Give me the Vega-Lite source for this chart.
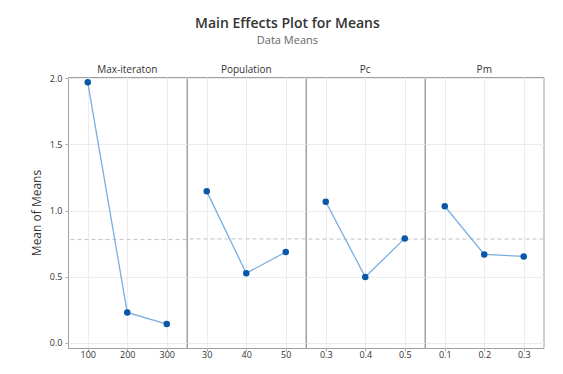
{
  "$schema": "https://vega.github.io/schema/vega-lite/v6.json",
  "background": "white",
  "padding": {"left": 30, "top": 17, "right": 21, "bottom": 8},
  "bounds": "flush",
  "title": {
    "text": "Main Effects Plot for Means",
    "subtitle": "Data Means",
    "anchor": "middle",
    "font": "Open Sans",
    "fontSize": 14,
    "fontWeight": 600,
    "color": "#333333",
    "subtitleFont": "Open Sans",
    "subtitleFontSize": 11,
    "subtitleColor": "#666666",
    "subtitlePadding": 4,
    "offset": 19
  },
  "data": {
    "values": [
      {"factor": "Max-iteraton", "level": "100", "mean": 1.97},
      {"factor": "Max-iteraton", "level": "200", "mean": 0.229},
      {"factor": "Max-iteraton", "level": "300", "mean": 0.141},
      {"factor": "Population", "level": "30", "mean": 1.145},
      {"factor": "Population", "level": "40", "mean": 0.525},
      {"factor": "Population", "level": "50", "mean": 0.686},
      {"factor": "Pc", "level": "0.3", "mean": 1.066},
      {"factor": "Pc", "level": "0.4", "mean": 0.497},
      {"factor": "Pc", "level": "0.5", "mean": 0.789},
      {"factor": "Pm", "level": "0.1", "mean": 1.032},
      {"factor": "Pm", "level": "0.2", "mean": 0.668},
      {"factor": "Pm", "level": "0.3", "mean": 0.653}
    ]
  },
  "facet": {
    "column": {
      "field": "factor",
      "type": "nominal",
      "sort": ["Max-iteraton", "Population", "Pc", "Pm"],
      "title": null,
      "header": {
        "labelFont": "Open Sans",
        "labelFontSize": 10,
        "labelFontWeight": "normal",
        "labelColor": "#333333",
        "labelPadding": 2
      }
    }
  },
  "spacing": 0,
  "resolve": {"scale": {"x": "independent"}},
  "spec": {
    "width": 118.5,
    "height": 271,
    "layer": [
      {
        "mark": {"type": "rule", "strokeDash": [4, 3], "color": "#c0c0c0", "strokeWidth": 1},
        "encoding": {
          "y": {"aggregate": "mean", "field": "mean", "type": "quantitative"}
        }
      },
      {
        "mark": {"type": "line", "color": "#78aee0", "strokeWidth": 1.3},
        "encoding": {
          "x": {"field": "level", "type": "ordinal", "title": null},
          "y": {"field": "mean", "type": "quantitative"}
        }
      },
      {
        "mark": {"type": "point", "filled": true, "color": "#0a56a8", "size": 42, "opacity": 1},
        "encoding": {
          "x": {
            "field": "level",
            "type": "ordinal",
            "title": null,
            "axis": {"labelAngle": 0, "labelAlign": "center", "grid": true}
          },
          "y": {
            "field": "mean",
            "type": "quantitative",
            "title": "Mean of Means",
            "scale": {"domain": [-0.04, 2.01], "nice": false, "zero": false},
            "axis": {"values": [0, 0.5, 1, 1.5, 2], "format": ".1f"}
          }
        }
      }
    ]
  },
  "config": {
    "view": {"stroke": "#a0a0a0", "strokeWidth": 1},
    "axis": {
      "labelFont": "Open Sans",
      "labelFontSize": 9,
      "labelColor": "#333333",
      "titleFont": "Open Sans",
      "titleFontSize": 12,
      "titleFontWeight": "normal",
      "titleColor": "#333333",
      "gridColor": "#ececec",
      "domain": false,
      "tickColor": "#aaaaaa",
      "tickSize": 3,
      "labelPadding": 3
    },
    "axisY": {"titlePadding": 6}
  }
}
